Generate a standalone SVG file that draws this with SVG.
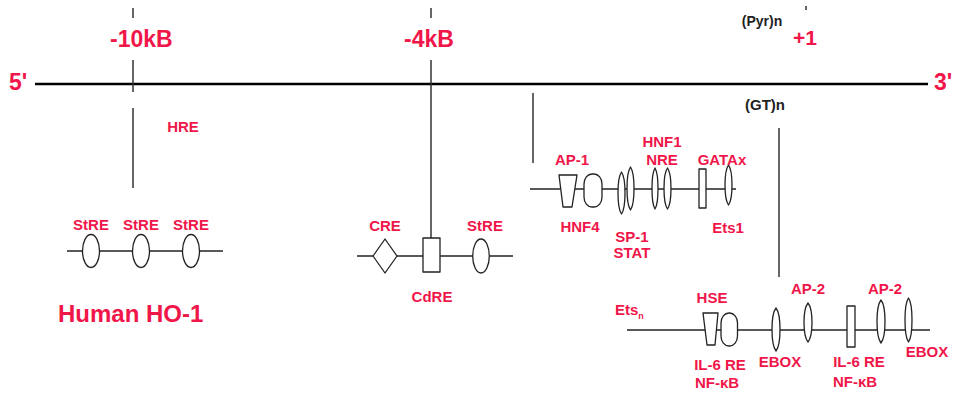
<svg xmlns="http://www.w3.org/2000/svg" width="962" height="399" viewBox="0 0 962 399">
<style>
text{font-family:"Liberation Sans",Arial,sans-serif;font-weight:bold;}
.r{fill:#f0164a;}
.k{fill:#222;}
.s{font-size:15px;text-anchor:middle;}
.big{font-size:23px;}
.axis{stroke:#000;stroke-width:2.6;fill:none;}
.vl{stroke:#333;stroke-width:1.5;fill:none;}
.bb{stroke:#222;stroke-width:1.6;fill:none;}
.sh{fill:#fff;stroke:#222;stroke-width:1.3;stroke-linejoin:round;}
</style>
<rect width="962" height="399" fill="#fff"/>

<g id="connectors">
  <line class="axis" x1="35" y1="84" x2="928" y2="84"/>
  <line class="vl" x1="133" y1="8" x2="133" y2="18"/>
  <line class="vl" x1="133" y1="60" x2="133" y2="92"/>
  <line class="vl" x1="133" y1="108" x2="133" y2="188"/>
  <line class="vl" x1="431" y1="8" x2="431" y2="18"/>
  <line class="vl" x1="431" y1="60" x2="431" y2="238"/>
  <line class="vl" x1="806" y1="6" x2="806" y2="10"/>
  <line class="vl" x1="533" y1="93" x2="533" y2="163"/>
  <line class="vl" x1="779" y1="128" x2="779" y2="277"/>
  <line class="bb" x1="67" y1="251" x2="223" y2="251"/>
  <line class="bb" x1="357" y1="256" x2="513" y2="256"/>
  <line class="bb" x1="530" y1="189" x2="736" y2="189"/>
  <line class="bb" x1="627" y1="330" x2="930" y2="330"/>
</g>

<g id="axis-labels">
  <text class="r big" x="9" y="90">5'</text>
  <text class="r big" x="934" y="90">3'</text>
  <text class="r big" x="110" y="47">-10kB</text>
  <text class="r big" x="404" y="47">-4kB</text>
  <text class="r" x="793" y="45" style="font-size:21px">+1</text>
  <text class="k s" x="762" y="26" style="font-size:14px">(Pyr)n</text>
  <text class="k s" x="765" y="110" style="font-size:15px">(GT)n</text>
  <text class="r s" x="183" y="132">HRE</text>
</g>

<g id="cluster-StRE">
  <ellipse class="sh" cx="91" cy="251" rx="8.5" ry="16.5"/>
  <ellipse class="sh" cx="141" cy="251" rx="8.5" ry="16.5"/>
  <ellipse class="sh" cx="191" cy="251" rx="8.5" ry="16.5"/>
  <text class="r s" x="91" y="230">StRE</text>
  <text class="r s" x="141" y="230">StRE</text>
  <text class="r s" x="191" y="230">StRE</text>
  <text class="r" x="58" y="322" style="font-size:24px">Human HO-1</text>
</g>

<g id="cluster-CRE">
  <polygon class="sh" points="385,239 397,256 385,273 373,256"/>
  <rect class="sh" x="423" y="238" width="17" height="34"/>
  <ellipse class="sh" cx="481" cy="256" rx="8.3" ry="17"/>
  <text class="r s" x="385" y="231">CRE</text>
  <text class="r s" x="485" y="231">StRE</text>
  <text class="r s" x="432" y="302">CdRE</text>
</g>

<g id="cluster-proximal">
  <polygon class="sh" points="559,175 577,175 572,207 563,207"/>
  <rect class="sh" x="584" y="174" width="18" height="33" rx="8" ry="10"/>
  <path class="sh" d="M621.5,172 Q625,177 625,193 Q625,209 621.5,214 Q618,209 618,193 Q618,177 621.5,172Z"/>
  <path class="sh" d="M630.5,167 Q634,172 634,188.5 Q634,205 630.5,210 Q627,205 627,188.5 Q627,172 630.5,167Z"/>
  <path class="sh" d="M655,168 Q658,173 658,188.5 Q658,204 655,209 Q652,204 652,188.5 Q652,173 655,168Z"/>
  <path class="sh" d="M667.5,168 Q671,173 671,188.5 Q671,204 667.5,209 Q664,204 664,188.5 Q664,173 667.5,168Z"/>
  <rect class="sh" x="699" y="169" width="7" height="39"/>
  <path class="sh" d="M728.5,165 Q732,170 732,185 Q732,200 728.5,205 Q725,200 725,185 Q725,170 728.5,165Z"/>
  <text class="r s" x="572" y="165">AP-1</text>
  <text class="r s" x="662" y="147">HNF1</text>
  <text class="r s" x="662" y="165">NRE</text>
  <text class="r s" x="722" y="165">GATAx</text>
  <text class="r s" x="580" y="232">HNF4</text>
  <text class="r s" x="632" y="242">SP-1</text>
  <text class="r s" x="632" y="258">STAT</text>
  <text class="r s" x="728" y="233">Ets1</text>
</g>

<g id="cluster-distal">
  <polygon class="sh" points="703,313 718,313 715,345 707,345"/>
  <rect class="sh" x="721" y="313" width="16.5" height="33" rx="8" ry="10"/>
  <path class="sh" d="M776,308 Q780,313 780,329.5 Q780,346 776,351 Q772,346 772,329.5 Q772,313 776,308Z"/>
  <path class="sh" d="M808,303 Q812,308 812,322.5 Q812,337 808,342 Q804,337 804,322.5 Q804,308 808,303Z"/>
  <rect class="sh" x="847" y="306" width="8" height="41"/>
  <path class="sh" d="M881,300 Q885,305 885,321.5 Q885,338 881,343 Q877,338 877,321.5 Q877,305 881,300Z"/>
  <path class="sh" d="M908.5,298 Q912,303 912,320 Q912,337 908.5,342 Q905,337 905,320 Q905,303 908.5,298Z"/>
  <text class="r" x="615" y="315" style="font-size:15px">Ets<tspan dy="4" style="font-size:9px">n</tspan></text>
  <text class="r s" x="712" y="303">HSE</text>
  <text class="r s" x="808" y="294">AP-2</text>
  <text class="r s" x="885" y="294">AP-2</text>
  <text class="r s" x="780" y="367">EBOX</text>
  <text class="r s" x="720" y="370">IL-6 RE</text>
  <text class="r s" x="717" y="388">NF-κB</text>
  <text class="r s" x="859" y="367">IL-6 RE</text>
  <text class="r s" x="855" y="387">NF-κB</text>
  <text class="r s" x="927" y="357">EBOX</text>
</g>
</svg>
